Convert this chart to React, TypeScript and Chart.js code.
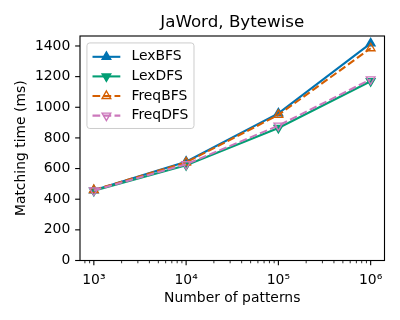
import React, { useEffect, useRef } from 'react';
import { Chart, registerables } from 'chart.js';

Chart.register(...registerables);

const FONT = '"DejaVu Sans", sans-serif';

const patternCounts = [1e3, 1e4, 1e5, 1e6];
const seriesNames = ['LexBFS', 'LexDFS', 'FreqBFS', 'FreqDFS'];
const lexBFS = [458, 645, 960, 1417];
const lexDFS = [455, 622, 865, 1170];
const freqBFS = [460, 640, 950, 1385];
const freqDFS = [457, 628, 880, 1182];
const seriesValues = [lexBFS, lexDFS, freqBFS, freqDFS];
const yTickValues = [0, 200, 400, 600, 800, 1000, 1200, 1400];
const xMajorTicks = [1e3, 1e4, 1e5, 1e6];
const xTickLabels = ['10³', '10⁴', '10⁵', '10⁶'];
const titleText = 'JaWord, Bytewise';
const xTitle = 'Number of patterns';
const yTitle = 'Matching time (ms)';

const colors = ['#0173b2', '#029e73', '#d55e00', '#cc78bc'];
const dashed = [false, false, true, true];
const filled = [true, true, false, false];
const pointingDown = [false, true, false, true];

const FS = 13.9;
const TITLE_FS = 16.7;
const LINE_W = 2.08;
const DASH = [7.7, 3.3];
const MARKER_R = 5;
const MARKER_LW = 1.39;

function isMajor(v: number) {
  return xMajorTicks.some((m) => Math.abs(m - v) / m < 1e-9);
}

function drawTri(ctx: CanvasRenderingContext2D, x: number, y: number, r: number, down: boolean, fill: boolean, color: string) {
  let rad = down ? Math.PI : 0;
  ctx.beginPath();
  for (let i = 0; i < 3; i++) {
    const px = x + Math.sin(rad) * r;
    const py = y - Math.cos(rad) * r;
    if (i === 0) ctx.moveTo(px, py);
    else ctx.lineTo(px, py);
    rad += (2 * Math.PI) / 3;
  }
  ctx.closePath();
  if (fill) {
    ctx.fillStyle = color;
    ctx.fill();
  }
  ctx.strokeStyle = color;
  ctx.lineWidth = MARKER_LW;
  ctx.setLineDash([]);
  ctx.stroke();
}

const decorPlugin = {
  id: 'decor',
  afterDatasetsDraw(chart: any) {
    const { ctx, chartArea: ca, scales } = chart;
    const xs = scales.x;
    const ys = scales.y;
    ctx.save();
    ctx.strokeStyle = '#000';
    ctx.setLineDash([]);
    xs.ticks.forEach((t: any) => {
      const major = isMajor(t.value);
      const px = xs.getPixelForValue(t.value);
      ctx.lineWidth = major ? 1.11 : 0.83;
      const len = major ? 4.86 : 2.78;
      ctx.beginPath();
      ctx.moveTo(px, ca.bottom);
      ctx.lineTo(px, ca.bottom + len);
      ctx.stroke();
    });
    ys.ticks.forEach((t: any) => {
      const py = ys.getPixelForValue(t.value);
      ctx.lineWidth = 1.11;
      ctx.beginPath();
      ctx.moveTo(ca.left, py);
      ctx.lineTo(ca.left - 4.86, py);
      ctx.stroke();
    });
    ctx.lineWidth = 1.11;
    ctx.strokeRect(ca.left, ca.top, ca.right - ca.left, ca.bottom - ca.top);
    ctx.restore();
  },
  afterDraw(chart: any) {
    const { ctx, chartArea: ca } = chart;
    ctx.save();
    // legend
    const pad = 0.4 * FS;
    const handleLen = 2 * FS;
    const textPad = 0.8 * FS;
    ctx.font = `${FS}px ${FONT}`;
    const maxText = Math.max(...seriesNames.map((n) => ctx.measureText(n).width));
    const bx = ca.left + 0.5 * FS;
    const by = ca.top + 0.5 * FS;
    const bw = pad * 2 + handleLen + textPad + maxText;
    const rowPitch = 19.6;
    const rowH = 13.6;
    const bh = pad * 2 + rowH + rowPitch * (seriesNames.length - 1) + 2;
    ctx.beginPath();
    ctx.roundRect(bx, by, bw, bh, 2.8);
    ctx.fillStyle = 'rgba(255,255,255,0.8)';
    ctx.fill();
    ctx.strokeStyle = '#cccccc';
    ctx.lineWidth = 1;
    ctx.stroke();
    seriesNames.forEach((name, i) => {
      const cy = by + pad + rowH / 2 + 1.5 + i * rowPitch;
      const hx = bx + pad;
      ctx.beginPath();
      ctx.strokeStyle = colors[i];
      ctx.lineWidth = LINE_W;
      ctx.setLineDash(dashed[i] ? DASH : []);
      ctx.moveTo(hx, cy);
      ctx.lineTo(hx + handleLen, cy);
      ctx.stroke();
      drawTri(ctx, hx + handleLen / 2, cy, MARKER_R, pointingDown[i], filled[i], colors[i]);
      ctx.fillStyle = '#000';
      ctx.textAlign = 'left';
      ctx.textBaseline = 'middle';
      ctx.font = `${FS}px ${FONT}`;
      ctx.fillText(name, hx + handleLen + textPad, cy);
    });
    // title
    ctx.font = `${TITLE_FS}px ${FONT}`;
    ctx.fillStyle = '#000';
    ctx.textAlign = 'center';
    ctx.textBaseline = 'alphabetic';
    ctx.fillText(titleText, (ca.left + ca.right) / 2, ca.top - 9.5);
    ctx.restore();
  },
};

export default function App() {
  const canvasRef = useRef<HTMLCanvasElement | null>(null);

  useEffect(() => {
    const canvas = canvasRef.current;
    if (!canvas) return;
    const logs = patternCounts.map((v) => Math.log10(v));
    const lmin = Math.min(...logs);
    const lmax = Math.max(...logs);
    const lm = 0.05 * (lmax - lmin);
    const xMin = Math.pow(10, lmin - lm);
    const xMax = Math.pow(10, lmax + lm);
    const all = seriesValues.flat();
    const vmin = Math.min(...all);
    const vmax = Math.max(...all);
    const yMax = vmax + 0.05 * (vmax - vmin);

    const xTickVals: number[] = [];
    for (let d = 2; d <= 6; d++) {
      for (let m = 1; m <= 9; m++) {
        const v = m * Math.pow(10, d);
        if (v >= xMin && v <= xMax) xTickVals.push(v);
      }
    }

    const datasets = seriesNames.map((name, i) => ({
      label: name,
      data: patternCounts.map((x, j) => ({ x, y: seriesValues[i][j] })),
      borderColor: colors[i],
      backgroundColor: colors[i],
      borderWidth: LINE_W,
      borderDash: dashed[i] ? DASH : [],
      pointStyle: 'triangle',
      pointRotation: pointingDown[i] ? 180 : 0,
      pointRadius: MARKER_R,
      pointBorderWidth: MARKER_LW,
      pointBorderColor: colors[i],
      pointBackgroundColor: filled[i] ? colors[i] : 'rgba(0,0,0,0)',
      tension: 0,
      fill: false,
      order: seriesNames.length - 1 - i,
      clip: false,
    }));

    const chart = new Chart(canvas, {
      type: 'line',
      data: { datasets },
      options: {
        animation: false,
        responsive: false,
        devicePixelRatio: 1,
        layout: { padding: { left: 0, top: 36, right: 15.5, bottom: 0 } },
        plugins: {
          legend: { display: false },
          title: { display: false },
          tooltip: { enabled: false },
        },
        scales: {
          x: {
            type: 'logarithmic',
            min: xMin,
            max: xMax,
            grid: { display: false, drawTicks: false },
            border: { display: false },
            afterBuildTicks: (scale: any) => {
              scale.ticks = xTickVals.map((v) => ({ value: v }));
            },
            afterFit: (scale: any) => {
              scale.height = 320 - 260.5;
            },
            ticks: {
              autoSkip: false,
              maxRotation: 0,
              minRotation: 0,
              padding: 11.5,
              color: '#000',
              font: { family: FONT, size: FS },
              callback: (value: any) => {
                const idx = xMajorTicks.findIndex((m) => Math.abs(m - Number(value)) / m < 1e-9);
                return idx >= 0 ? xTickLabels[idx] : '';
              },
            },
            title: {
              display: true,
              text: xTitle,
              color: '#000',
              font: { family: FONT, size: FS },
              padding: { top: 0, bottom: 13.5 },
            },
          },
          y: {
            type: 'linear',
            min: 0,
            max: yMax,
            grid: { display: false, drawTicks: false },
            border: { display: false },
            afterBuildTicks: (scale: any) => {
              scale.ticks = yTickValues.map((v) => ({ value: v }));
            },
            afterFit: (scale: any) => {
              scale.width = 80;
            },
            ticks: {
              padding: 9.7,
              color: '#000',
              font: { family: FONT, size: FS },
              callback: (value: any) => String(value),
            },
            title: {
              display: true,
              text: yTitle,
              color: '#000',
              font: { family: FONT, size: FS },
              padding: { top: 12.7, bottom: 0 },
            },
          },
        },
      },
      plugins: [decorPlugin],
    } as any);

    return () => {
      chart.destroy();
    };
  }, []);

  return (
    <div style={{ position: 'absolute', left: 0, top: 0, width: 400, height: 320, background: '#fff' }}>
      <canvas ref={canvasRef} width={400} height={320} />
    </div>
  );
}
